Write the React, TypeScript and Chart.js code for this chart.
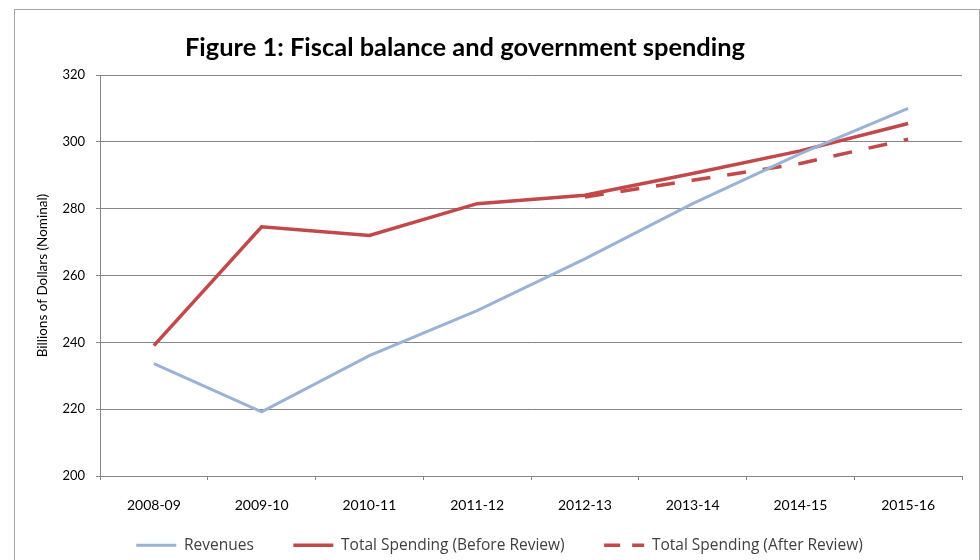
import { useEffect, useRef } from 'react';
import { Chart, registerables } from 'chart.js';

Chart.register(...registerables);

const TITLE = 'Figure 1: Fiscal balance and government spending';
const Y_TITLE = 'Billions of Dollars (Nominal)';

const categories = ['2008-09', '2009-10', '2010-11', '2011-12', '2012-13', '2013-14', '2014-15', '2015-16'];
const revenues = [233.6, 219.2, 236.0, 249.5, 265.0, 281.5, 296.5, 310.0];
const spendingBefore = [239.0, 274.6, 272.0, 281.5, 284.0, 290.5, 297.3, 305.5];
const spendingAfter = [null, null, null, null, 283.5, 288.5, 293.5, 300.8];

const yMin = 200;
const yMax = 320;
const yStep = 20;

const titlePlugin = {
  id: 'figTitle',
  afterDraw(chart: any) {
    const ctx = chart.ctx as CanvasRenderingContext2D;
    ctx.save();
    ctx.font = 'bold 25px Lato';
    ctx.fillStyle = '#000000';
    ctx.textBaseline = 'alphabetic';
    ctx.textAlign = 'left';
    const w = ctx.measureText(TITLE).width;
    const sx = 560 / w;
    ctx.translate(170, 46);
    ctx.scale(sx, 1);
    ctx.fillText(TITLE, 0, 0);
    ctx.restore();
  },
};

export default function App() {
  const canvasRef = useRef<HTMLCanvasElement | null>(null);

  useEffect(() => {
    if (!canvasRef.current) return;
    const gridColor = '#868686';
    const chart = new Chart(canvasRef.current, {
      type: 'line',
      data: {
        labels: categories,
        datasets: [
          {
            label: 'Revenues',
            data: revenues,
            borderColor: '#99b2d6',
            backgroundColor: '#99b2d6',
            borderWidth: 3,
            pointRadius: 0,
            tension: 0,
          },
          {
            label: 'Total Spending (Before Review)',
            data: spendingBefore,
            borderColor: '#c3484a',
            backgroundColor: '#c3484a',
            borderWidth: 3.5,
            pointRadius: 0,
            tension: 0,
          },
          {
            label: 'Total Spending (After Review)',
            data: spendingAfter,
            borderColor: '#c3484a',
            backgroundColor: '#c3484a',
            borderWidth: 3.5,
            borderDash: [19, 17],
            pointRadius: 0,
            tension: 0,
            spanGaps: false,
          },
        ],
      },
      options: {
        animation: false,
        responsive: true,
        maintainAspectRatio: false,
        layout: { padding: { top: 65, right: 17, bottom: 5, left: 22 } },
        plugins: {
          title: { display: false },
          tooltip: { enabled: false },
          legend: {
            position: 'bottom',
            labels: {
              usePointStyle: true,
              pointStyle: 'line',
              pointStyleWidth: 40,
              font: { family: 'Open Sans', size: 15.5 },
              color: '#404040',
              padding: 39.5,
              generateLabels: (c: any) => {
                const items = (Chart as any).defaults.plugins.legend.labels.generateLabels(c);
                items.forEach((it: any) => {
                  const ds: any = c.data.datasets[it.datasetIndex];
                  it.pointStyle = 'line';
                  it.strokeStyle = ds.borderColor;
                  it.fillStyle = ds.borderColor;
                  it.lineWidth = ds.borderWidth;
                  it.lineDash = ds.borderDash ? [16, 12] : [];
                });
                return items;
              },
            },
          },
        },
        scales: {
          x: {
            offset: true,
            grid: {
              display: true,
              drawOnChartArea: false,
              drawTicks: true,
              tickLength: 4,
              color: gridColor,
              offset: true,
            },
            border: { color: gridColor },
            ticks: {
              font: { family: 'Lato', size: 14 },
              color: '#000000',
              padding: 17,
              maxRotation: 0,
              autoSkip: false,
            },
            afterFit: (s: any) => {
              s.height = 22;
              s._computeLabelArea = () => undefined;
            },
          },
          y: {
            min: yMin,
            max: yMax,
            ticks: {
              stepSize: yStep,
              font: { family: 'Lato', size: 13 },
              color: '#000000',
              padding: 11,
            },
            grid: { color: gridColor, lineWidth: 1, tickLength: 4, drawTicks: true },
            border: { color: gridColor },
            title: {
              display: true,
              text: Y_TITLE,
              font: { family: 'Lato', size: 13.5 },
              color: '#000000',
              padding: { top: -2, bottom: 0 },
            },
            afterFit: (s: any) => {
              s.width = 63;
            },
          },
        },
      },
      plugins: [titlePlugin],
    } as any);
    return () => chart.destroy();
  }, []);

  return (
    <div style={{ position: 'absolute', left: 0, top: 0, width: 980, height: 560, overflow: 'hidden', background: '#ffffff' }}>
      <div
        style={{
          position: 'absolute',
          left: 14,
          top: 9,
          width: 966,
          height: 580,
          boxSizing: 'border-box',
          border: '1px solid #a6a6a6',
          background: '#ffffff',
        }}
      >
        <div style={{ position: 'relative', width: 964, height: 558 }}>
          <canvas ref={canvasRef} />
        </div>
      </div>
    </div>
  );
}
